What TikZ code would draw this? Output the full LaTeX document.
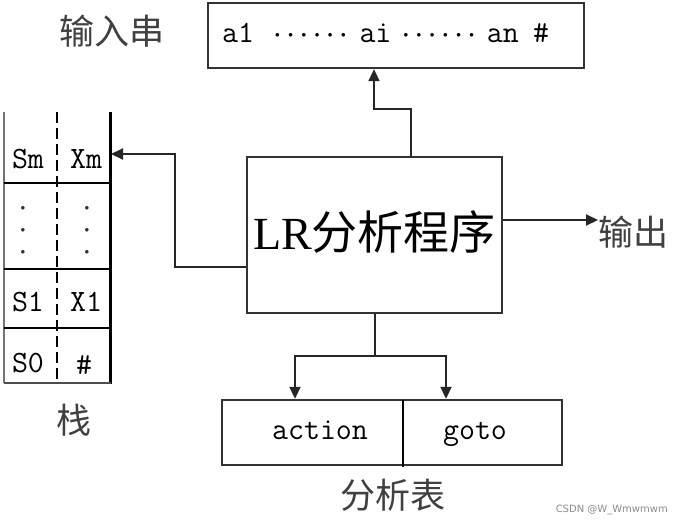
\documentclass[tikz,border=0pt]{standalone}
\usepackage{fontspec}
\setmainfont{Liberation Serif}
\newfontfamily\cjk{Noto Sans CJK SC}
\newfontfamily\wm{DejaVu Sans}
\usetikzlibrary{arrows.meta}
\newcommand\dotglyph{{\fontsize{9}{9}\selectfont$\bullet$}}
\newcommand\dd{\makebox[13.2pt]{\raisebox{5pt}{\dotglyph}}}
\newcommand\ddd{\dd\dd\dd\dd\dd\dd}
\begin{document}
\begin{tikzpicture}[x=1pt,y=-1pt,
  box/.style={draw=black!80,line width=2.4pt,inner sep=0pt},
  conn/.style={draw=black!85,line width=2pt},
  arr/.style={conn,-{Triangle[length=12pt,width=11pt]}},
  lbl/.style={font=\cjk\fontsize{35}{35}\selectfont,text=black!75,inner sep=0pt},
  mtext/.style={font=\ttfamily\fontsize{31}{31}\selectfont,inner sep=0pt,anchor=base},
  vdot/.style={font=\fontsize{9}{22}\selectfont,align=center,inner sep=0pt,text=black!80}]
\useasboundingbox (0,0) rectangle (673,523);
\fill[white] (0,0) rectangle (673,523);

% input string
\node[box,minimum width=376pt,minimum height=65pt] (inp) at (396,35.5) {};
\node[mtext,anchor=base west] (inptxt) at (222,42) {a1\kern16.8pt\ddd\kern9.4pt ai\kern7.8pt\ddd\kern8.4pt an\kern14.4pt\#};
\node[lbl] (inplbl) at (112,31) {输入串};

% LR program
\node[box,minimum width=255pt,minimum height=156pt] (lr) at (374.5,235) {};
\node[inner sep=0pt,font=\fontsize{46}{46}\selectfont] (lrtxt) at (374.5,232) {LR{\cjk 分析程序}};

% stack
\draw[black!55,line width=2pt] (4,112) -- (4,383);
\draw[black,line width=3pt] (110,112) -- (110,384);
\draw[black!70,line width=2.2pt] (4,383) -- (111,383);
\foreach \yy in {183,269,328} \draw[black,line width=2pt] (4,\yy) -- (110,\yy);
\draw[black,line width=2.8pt,dash pattern=on 11pt off 5pt] (57,112) -- (57,383);
\node[mtext] (sm) at (28,168) {Sm};
\node[mtext] (xm) at (86,168) {Xm};
\node[vdot] (d1) at (23,230) {$\bullet$\\$\bullet$\\$\bullet$};
\node[vdot] (d2) at (87,230) {$\bullet$\\$\bullet$\\$\bullet$};
\node[mtext] (s1) at (28,311) {S1};
\node[mtext] (x1) at (86,311) {X1};
\node[mtext] (s0) at (28,372) {S0};
\node[mtext] (hash) at (84,374) {\#};
\coordinate (stk) at (111,154);
\node[lbl] (stklbl) at (74,420) {栈};

% output
\node[lbl,anchor=west] (out) at (598,232) {输出};

% table
\node[box,minimum width=340pt,minimum height=65pt] (tbl) at (392,432.5) {};
\draw[black,line width=2pt] (403,400) -- (403,467);
\node[mtext] (act) at (320,439) {action};
\node[mtext] (gt) at (475,439) {goto};
\node[lbl] (tbllbl) at (393,495) {分析表};

% connectors
\draw[arr] ([xshift=36pt]lr.north) -- ++(0,-47) -| ([xshift=-22pt]inp.south);
\draw[arr] ([yshift=-32pt]lr.west) -- ++(-71,0) |- (stk);
\draw[arr] ([yshift=15pt]lr.east) -- ([yshift=12pt]out.west);
\coordinate (split) at ([yshift=-42pt]lr.south);
\draw[conn] (lr.south) -- (split);
\draw[arr] (split) -| ([xshift=-97pt]tbl.north);
\draw[arr] (split) -| ([xshift=54pt]tbl.north);

% watermark
\node[font=\wm\fontsize{10}{10}\selectfont,text=black!45,anchor=east,inner sep=0pt] (wmk) at (668,510) {CSDN @W\_Wmwmwm};
\end{tikzpicture}
\end{document}
